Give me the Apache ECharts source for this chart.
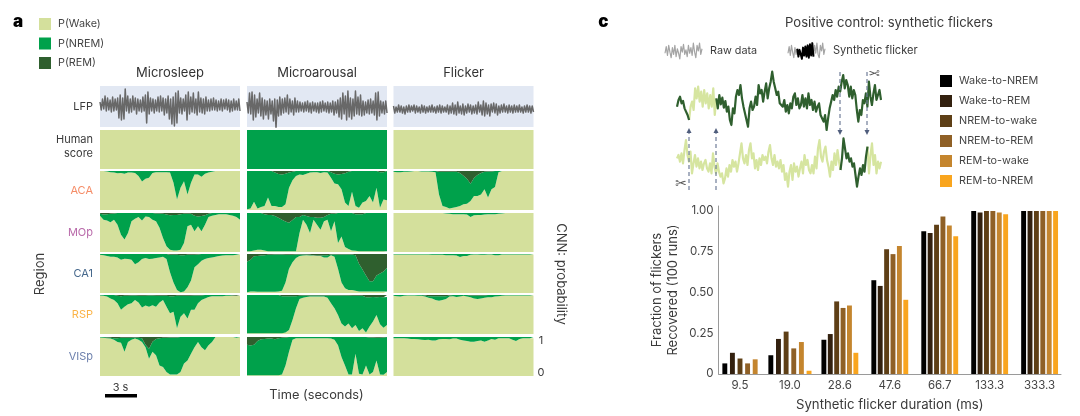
<!DOCTYPE html>
<html><head><meta charset="utf-8">
<style>html,body{margin:0;padding:0;background:#fff}#c{width:1080px;height:416px}</style>
<script src="https://cdn.jsdelivr.net/npm/echarts@6/dist/echarts.min.js"></script>
</head><body><div id="c"></div>
<script>
const stateNames = ['P(Wake)','P(NREM)','P(REM)'];
const regions = ['ACA','MOp','CA1','RSP','VISp'];
const conditions = ['Microsleep','Microarousal','Flicker'];

const lfpMicrosleep = [3,-5,6,-4,9,-6,7,-5,5,-7,8,-6,6,-5,7,-13,10,-15,7,-14,16,-6,9,-8,6,-7,9,-5,7,-9,6,-6,5,-7,8,-6,10,-18,13,-9,7,-6,6,-8,5,-6,8,-7,9,-6,7,-10,6,-8,9,-14,6,-19,8,-21,12,-18,14,-8,7,-9,6,-6,10,-15,13,-9,8,-7,12,-8,6,-10,13,-7,7,-8,6,-9,8,-6,5,-6,6,-5,7,-5,5,-6,4,-5,6,-6,5,-4,6,-5,5,-7,4,-6,6,-5,4,-5,6,-6];
const lfpMicroarousal = [5,-6,14,-7,15,-13,12,-10,8,-6,14,-9,9,-12,7,-8,6,-12,8,-7,6,-14,8,-22,7,-9,10,-8,8,-6,9,-5,12,-7,8,-5,6,-8,9,-5,6,-5,5,-4,4,-5,5,-4,6,-5,4,-6,5,-4,4,-5,4,-6,5,-5,6,-4,4,-5,5,-6,4,-5,6,-8,5,-6,7,-10,9,-12,14,-7,11,-13,16,-10,9,-12,8,-9,16,-7,10,-8,12,-9,6,-8,5,-6,7,-7,8,-6,6,-8,14,-13,15,-9,6,-6,5,-7,6,-6];
const lfpFlicker = [3,-4,2,-3,4,-3,3,-4,2,-5,3,-3,4,-3,3,-2,4,-4,3,-3,2,-4,4,-3,3,-4,2,-3,3,-3,4,-3,2,-4,3,-3,4,-4,3,-3,2,-3,4,-5,3,-4,6,-5,4,-6,7,-4,3,-5,5,-6,3,-4,5,-3,4,-5,3,-4,4,-5,7,-3,4,-6,8,-7,6,-5,4,-7,5,-3,6,-4,5,-6,3,-4,4,-3,5,-3,3,-4,4,-3,3,-4,4,-3,3,-3,4,-3,2,-4,3,-3,4,-3,3,-4,3,-3];

const wakeMicrosleepACA = [1,1,.99,.97,.96,.94,.95,.93,.96,.96,.95,.87,.73,.8,.83,.95,.97,.97,.97,.97,.96,.7,.27,.57,.74,.4,.7,.91,.91,.85,.93,.96,.98,1,1,1,1,1,1,1,1];
const remMicrosleepACA = [0,0,0,0,0,0,0,0,0,0,0,0,0,0,0,0,0,0,0,0,0,0,0,0,0,0,0,0,0,0,0,0,0,0,0,0,0,0,0,0,0];
const wakeMicrosleepMOp = [.93,.83,.81,.76,.83,.7,.44,.32,.49,.79,.85,.9,.81,.91,.9,.83,.79,.62,.36,.15,.06,.04,.04,.06,.23,.66,.7,.53,.66,.53,.7,.9,.93,.95,.97,.97,.97,.95,.93,.9,.83];
const remMicrosleepMOp = [.02,.04,.03,.02,.01,0,0,0,0,0,0,0,0,0,0,0,.01,.01,.02,.04,.06,.05,.05,.03,.02,.02,.02,.07,.09,.08,.06,.02,0,0,0,0,0,0,0,0,0];
const wakeMicrosleepCA1 = [.98,.97,.95,.93,.93,.91,.85,.88,.87,.85,.74,.79,.87,.9,.87,.88,.9,.91,.93,.87,.53,.27,.08,.02,.04,.15,.32,.66,.74,.83,.87,.9,.91,.93,.95,.96,.97,.97,.97,.98,.99];
const remMicrosleepCA1 = [0,0,0,0,0,0,0,0,0,0,0,0,0,0,0,0,0,0,0,0,.02,.02,.02,.03,.03,.02,.02,.02,.01,0,0,0,0,0,0,0,0,0,0,0,0];
const wakeMicrosleepRSP = [.99,.98,.96,.91,.87,.79,.62,.7,.76,.79,.87,.81,.68,.73,.7,.74,.7,.81,.87,.7,.53,.57,.15,.44,.53,.4,.62,.62,.79,.87,.91,.95,.97,.97,.97,.97,.98,.98,.98,.98,.98];
const remMicrosleepRSP = [0,0,0,0,0,.02,.03,.02,.02,.01,.01,.02,.02,.02,.01,.01,.02,.02,.02,.02,.03,.03,.02,.02,.02,.02,.02,.01,.01,.01,0,0,0,0,0,0,0,0,.01,.02,.01];
const wakeMicrosleepVISp = [.99,.98,.97,.96,.93,.87,.85,.62,.87,.93,.96,.93,.87,.74,.44,.62,.53,.27,.23,.1,.04,.04,.04,.1,.32,.4,.57,.74,.87,.74,.66,.79,.87,1,1,1,1,1,1,.98,1];
const remMicrosleepVISp = [0,0,.01,.02,.03,.03,.02,.02,.02,.02,.01,.02,.03,.2,.3,.12,.05,.03,.02,.02,.01,.01,.01,0,0,0,0,0,0,0,0,0,0,0,0,0,0,0,0,0,0];

const wakeMicroarousalACA = [.02,.04,.21,.04,.08,.1,.32,.1,.1,.08,.08,.15,.57,.76,.87,.91,.9,.93,.96,.97,.97,.95,.97,.96,.83,.68,.66,.53,.19,.1,.47,.1,.06,.19,.23,.36,.19,.57,.06,.27,.25];
const remMicroarousalACA = [0,0,0,0,0,0,0,0,.04,.08,.09,.07,.04,.02,0,0,0,0,0,0,0,0,0,0,.03,.07,.09,.08,.06,.02,0,0,0,0,0,0,0,0,.03,.03,0];
const wakeMicroarousalMOp = [.02,.02,.04,.06,.06,.04,.02,.02,.02,.02,.02,.02,.02,.02,.02,.49,.83,.7,.49,.83,.7,.57,.79,.83,.53,.79,.23,.4,.13,.08,.04,.03,.02,.02,.02,.02,.02,.02,.02,.02,.02];
const remMicroarousalMOp = [0,0,0,0,0,.03,.05,.05,.08,.12,.17,.22,.25,.18,.1,.1,.05,.08,.1,.1,.12,.12,.1,.05,.02,.02,0,0,0,0,0,.03,.03,.03,0,0,0,0,0,0,0];
const wakeMicroarousalCA1 = [.02,.04,.04,.03,.03,.03,.03,.03,.03,.04,.06,.27,.62,.79,.9,.95,.96,.97,.96,.96,.95,.95,.91,.91,.97,.93,.62,.27,.12,.08,.08,.06,.04,.04,.04,.04,.04,.04,.04,.04,.04];
const remMicroarousalCA1 = [.2,.15,.06,.05,.04,.03,.02,.02,.01,.01,.01,.02,.02,.02,.01,.01,.01,.01,.02,.03,.04,.04,.03,.03,.01,.01,.01,.01,.01,.01,.01,.03,.25,.4,.55,.7,.7,.55,.5,.45,.35];
const wakeMicroarousalRSP = [.02,.02,.02,.02,.02,.02,.02,.02,.02,.02,.02,.04,.1,.36,.66,.9,.93,.95,.96,.96,.96,.96,.96,.93,.79,.66,.49,.27,.19,.27,.15,.23,.08,.15,.04,.19,.32,.49,.25,.16,.23];
const remMicroarousalRSP = [0,0,0,0,0,0,0,0,0,0,.03,.03,.03,.03,.03,.02,.01,.01,.01,.01,.01,.01,.01,.01,.01,.01,.01,.01,.01,.01,.02,.02,.02,.02,.06,.06,.05,.06,.05,.06,.05];
const wakeMicroarousalVISp = [.02,.02,.02,.02,.02,.02,.02,.02,.02,.02,.04,.27,.62,.93,.97,.97,.97,.97,.97,.97,.97,.97,.97,.97,.96,.93,.79,.49,.27,.04,.04,.57,.06,.04,.27,.04,.1,.4,.04,.03,.1];
const remMicroarousalVISp = [.2,.22,.2,.1,.06,.05,.04,.04,.06,.03,.02,.01,0,0,0,0,0,0,0,0,0,0,0,0,0,0,0,0,0,0,0,0,0,0,0,.01,.01,.02,.02,.01,0];

const wakeFlickerACA = [.98,.97,.97,.98,.98,.99,1,1,.99,.99,.99,.98,.97,.4,.1,.08,.04,.06,.08,.1,.15,.16,.23,.36,.36,.4,.53,.32,.53,.59,.97,1,1,1,1,1,1,1,1,1,1];
const remFlickerACA = [0,0,0,0,0,0,0,0,0,0,0,0,0,.02,.02,.02,.02,.02,.02,.05,.12,.2,.33,.18,.1,.05,.02,.01,.01,0,0,0,0,0,0,0,0,0,0,0,0];
const wakeFlickerMOp = [1,1,1,1,1,1,1,1,1,1,1,1,1,1,1,.99,.98,.97,.97,.97,.97,.96,.9,.94,.95,.95,.96,.97,.97,.97,.98,.99,1,1,1,1,1,1,1,1,1];
const remFlickerMOp = [0,0,0,0,0,0,0,0,0,0,0,0,0,0,0,0,0,0,0,0,0,0,0,0,0,0,0,0,0,0,0,0,0,0,0,0,0,0,0,0,0];
const wakeFlickerCA1 = [.99,.99,.99,.99,.99,.99,.99,.99,.99,.99,.99,.98,.98,.98,.98,.97,.97,.97,.96,.92,.95,.95,.98,.99,.99,.98,.98,.99,.99,.97,.97,.99,.99,.99,.99,.99,.99,.99,.99,.99,.99];
const remFlickerCA1 = [0,0,0,0,0,0,0,0,0,0,0,0,0,0,0,0,0,0,0,0,0,0,0,0,0,0,0,0,0,0,0,0,0,0,0,0,0,0,0,0,0];
const wakeFlickerRSP = [.98,.97,.96,.98,.99,.99,.99,.98,.98,.96,.93,.91,.87,.85,.87,.9,.96,.97,.95,.96,.98,.96,.94,.91,.9,.91,.93,.94,.94,.96,.97,.98,.99,.99,.99,.99,.99,.99,.99,.99,.99];
const remFlickerRSP = [0,0,0,0,0,0,0,0,0,.01,.03,.03,.03,.03,.03,.03,.01,0,0,0,0,0,.01,.01,.01,.01,.01,0,0,0,0,0,0,0,0,0,0,0,0,0,0];
const wakeFlickerVISp = [.97,.97,.97,.97,.96,.95,.95,.94,.93,.92,.93,.91,.91,.94,.95,.95,.94,.96,.96,.93,.91,.9,.88,.88,.9,.91,.88,.91,.95,.93,.97,.97,.97,.97,.93,.9,.95,.97,.97,.97,.97];
const remFlickerVISp = [0,0,0,0,0,0,0,0,0,0,0,0,0,0,0,0,0,0,0,0,0,0,0,0,0,0,0,0,0,0,0,0,0,0,0,0,0,0,0,0,0];

const humanWakeMicrosleep = [1,1];
const humanWakeMicroarousal = [0,0];
const humanWakeFlicker = [1,1];
const humanRem = [0,0];

const traceRawFlicker = [125,105,95,115,108,130,125,150,165,125,110,135,70,100,65,110,80,125,75,115,85,130,90,125,70,150,100,130,90,118,98,128,108,140,125,165,180,130,145,95,75,90,60,100,125,120,165,185,130,110,135,125,95,120,60,85,75,110,80,55,100,70,50,20,50,70,90,80,115,110,125,105,140,120,145,115,130,95,85,120,100,130,120,90,125,100,130,85,120,105,135,110,140,125,115,150,150,170,150,195,160,130,110,90,105,75,95,65,80,50,30,70,45,60,95,65,100,75,90,135,170,135,150,105,115,85,125,50,95,120,85,60,105,100,75,105];
const traceSyntheticFlicker = [85,75,95,70,100,60,30,75,95,65,130,100,75,110,85,115,95,120,100,90,115,125,100,130,70,110,130,100,125,140,130,160,145,115,140,105,125,90,110,95,125,100,70,40,85,100,75,105,60,40,85,70,115,90,120,85,105,75,90,80,100,65,45,85,105,75,110,95,115,90,125,105,150,130,170,125,105,150,100,125,110,140,115,95,130,75,105,90,120,130,105,130,80,115,55,30,80,95,65,50,90,110,140,95,120,70,105,60,95,120,85,25,55,85,70,95,85,110,100,135,170,140,115,135,105,125,80,50,130,75,40,105,75,130,95,115,95];
const glyphRaw = [10,4,12,3,9,14,5,11,3,13,6,10,15,4,9,2,11,7,13,3,10,5,12,1,9,14,3,8,1,11,6];
const glyphSynthetic = [10,4,12,3,9,14,5,11,6,13,7,11,15,5,12,4,13,3,14,2,12,1,13,3,10,1,11,14,3,8,1,11,6];

const transitionNames = ['Wake-to-NREM','Wake-to-REM','NREM-to-wake','NREM-to-REM','REM-to-wake','REM-to-NREM'];
const durationLabels = ['9.5','19.0','28.6','47.6','66.7','133.3','333.3'];
const wakeToNREM = [.065,.115,.21,.575,.875,1,1];
const wakeToREM = [.13,.215,.245,.54,.865,.99,1];
const nremToWake = [.095,.26,.445,.765,.915,1,1];
const nremToREM = [.065,.157,.405,.735,.965,1,1];
const remToWake = [.09,.196,.42,.785,.91,.99,1];
const remToNREM = [null,.02,.13,.455,.845,.98,1];
const tickLabelsY = {0:'0',0.25:'0.25',0.5:'0.50',0.75:'0.75',1:'1.00'};

const FONT = 'Inter, "Noto Sans", sans-serif';
const colWake='#d4e09c', colNrem='#00a14b', colRem='#2f5f2e';
const transitionColors=['#000000','#33210f','#5e3f16','#8f6026','#c4852e','#f9a51e'];
const regionColors=['#f58d68','#b96aaa','#46688c','#fbb448','#6d80ad'];

const grid=[],xAxis=[],yAxis=[],series=[],graphic=[];
function addGrid(left,top,width,height,yMin,yMax,n,extra){
  const i=grid.length;
  grid.push(Object.assign({left,top,width,height,show:false,containLabel:false},extra||{}));
  xAxis.push({type:'category',gridIndex:i,show:false,boundaryGap:false,data:Array.from({length:n},(_,k)=>k)});
  yAxis.push({type:'value',gridIndex:i,show:false,min:yMin,max:yMax,inverse:false});
  return i;
}
function addStates(left,top,w,h,wake,rem){
  const i=addGrid(left,top,w,h,0,1,wake.length);
  const nrem=wake.map((v,k)=>Math.max(0,1-v-rem[k]));
  [[stateNames[0],wake,colWake],[stateNames[1],nrem,colNrem],[stateNames[2],rem,colRem]].forEach(([name,data,color])=>{
    series.push({type:'line',name,data,xAxisIndex:i,yAxisIndex:i,stack:'s'+i,symbol:'none',showSymbol:false,
      lineStyle:{width:0},areaStyle:{color,opacity:1},itemStyle:{color},silent:true});
  });
}
function addTrace(i,data,from,to,color,width){
  series.push({type:'line',data:data.map((v,k)=>k>=from&&k<=to?v:null),xAxisIndex:i,yAxisIndex:i,symbol:'none',showSymbol:false,
    connectNulls:false,lineStyle:{width,color,join:'round'},silent:true});
}
function text(x,y,t,o){graphic.push({type:'text',x,y,rotation:o&&o.rot||0,z:10,silent:true,style:Object.assign({text:t,x:0,y:0,fill:'#3a3a3a',font:'12px '+FONT,textAlign:'center',textVerticalAlign:'middle'},o&&o.s||{})});}

const colLeft=[100,247,393.5], W=140;
const lfps=[lfpMicrosleep,lfpMicroarousal,lfpFlicker];
const lfpRange=[[-22,19],[-20,21],[-18,23]];
const humans=[humanWakeMicrosleep,humanWakeMicroarousal,humanWakeFlicker];
const tops=[171,213,254,295,337];
const panels=[
 [[wakeMicrosleepACA,remMicrosleepACA],[wakeMicrosleepMOp,remMicrosleepMOp],[wakeMicrosleepCA1,remMicrosleepCA1],[wakeMicrosleepRSP,remMicrosleepRSP],[wakeMicrosleepVISp,remMicrosleepVISp]],
 [[wakeMicroarousalACA,remMicroarousalACA],[wakeMicroarousalMOp,remMicroarousalMOp],[wakeMicroarousalCA1,remMicroarousalCA1],[wakeMicroarousalRSP,remMicroarousalRSP],[wakeMicroarousalVISp,remMicroarousalVISp]],
 [[wakeFlickerACA,remFlickerACA],[wakeFlickerMOp,remFlickerMOp],[wakeFlickerCA1,remFlickerCA1],[wakeFlickerRSP,remFlickerRSP],[wakeFlickerVISp,remFlickerVISp]]
];
colLeft.forEach((L,c)=>{
  const i=addGrid(L,86,W,41,lfpRange[c][0],lfpRange[c][1],lfps[c].length,{show:true,backgroundColor:'#e2e8f3',borderWidth:0});
  addTrace(i,lfps[c],0,1e9,'#686868',1.5);
  addStates(L,130,W,39,humans[c],humanRem);
  tops.forEach((T,r)=>addStates(L,T,W,39,panels[c][r][0],panels[c][r][1]));
  text(L+W/2,73,conditions[c],{s:{font:'13px '+FONT,fill:'#333'}});
});

// panel c traces
let g=addGrid(677,65,204,70,0,210,traceRawFlicker.length); yAxis[g].inverse=true;
addTrace(g,traceRawFlicker,8,26,'#d6e5a0',2.2);
addTrace(g,traceRawFlicker,0,8,'#2f5f2e',2.2);
addTrace(g,traceRawFlicker,26,135,'#2f5f2e',2.2);
g=addGrid(677,130,204,65,0,195,traceSyntheticFlicker.length); yAxis[g].inverse=true;
addTrace(g,traceSyntheticFlicker,0,109,'#d6e5a0',2.2);
addTrace(g,traceSyntheticFlicker,127,136,'#d6e5a0',2.2);
addTrace(g,traceSyntheticFlicker,109,127,'#2f5f2e',2.2);
g=addGrid(665,42,37,18,0,16,glyphRaw.length); yAxis[g].inverse=true;
addTrace(g,glyphRaw,0,99,'#a5a5a5',1.2);
g=addGrid(788,42,37,18,0,16,glyphSynthetic.length); yAxis[g].inverse=true;
addTrace(g,glyphSynthetic,0,8,'#a5a5a5',1.2);
addTrace(g,glyphSynthetic,22,33,'#a5a5a5',1.2);
addTrace(g,glyphSynthetic,8,22,'#000',2);

// bar chart: the x axis counts sevenths of a duration group, so min is a multiple of the interval
const b=grid.length, unit=7;
grid.push({left:718.6,top:206,width:342.4,height:168});
xAxis.push({type:'value',gridIndex:b,min:-3,max:45,interval:1,splitLine:{show:false},axisTick:{show:false},
  axisLine:{show:true,onZero:false,lineStyle:{color:'#9a9a9a'}},
  axisLabel:{color:'#444',fontFamily:FONT,fontSize:11.5,margin:6,formatter:v=>v%unit===0&&v>=0?durationLabels[v/unit]:''},
  name:'Synthetic flicker duration (ms)',nameLocation:'middle',nameGap:25,nameTextStyle:{color:'#3a3a3a',fontFamily:FONT,fontSize:13.2}});
yAxis.push({type:'value',gridIndex:b,min:0,max:1.03,interval:.25,splitLine:{show:false},axisTick:{show:false},
  axisLine:{show:true,onZero:false,lineStyle:{color:'#9a9a9a'}},
  axisLabel:{color:'#444',fontFamily:FONT,fontSize:11.5,margin:5,showMaxLabel:false,formatter:v=>tickLabelsY[v]||''},
  name:'Fraction of flickers\nRecovered (100 runs)',nameLocation:'middle',nameGap:38,nameRotate:90,
  nameTextStyle:{color:'#3a3a3a',fontFamily:FONT,fontSize:13,lineHeight:16}});
const groupPitch=[.152,.153,.128,.128,.128,.128,.128];
[wakeToNREM,wakeToREM,nremToWake,nremToREM,remToWake,remToNREM].forEach((vals,s)=>{
  series.push({type:'bar',name:transitionNames[s],xAxisIndex:b,yAxisIndex:b,barWidth:4.9,barGap:'-100%',
    itemStyle:{color:transitionColors[s]},silent:true,
    data:vals.map((v,k)=>{const n=k===0?5:6;return [(k+(s-(n-1)/2)*groupPitch[k])*unit,v];})});
});

// left-hand row labels
text(93,107,'LFP',{s:{textAlign:'right',font:'11px '+FONT}});
text(93,140,'Human',{s:{textAlign:'right',font:'11px '+FONT}});
text(93,153.5,'score',{s:{textAlign:'right',font:'11px '+FONT}});
regions.forEach((r,i)=>text(93,[191,233,274,315,357][i],r,{s:{textAlign:'right',font:'11px '+FONT,fill:regionColors[i]}}));
text(40,274,'Region',{rot:Math.PI/2,s:{font:'13px '+FONT}});
text(561,274,'CNN: probability',{rot:-Math.PI/2,s:{font:'13px '+FONT}});
text(541,340.5,'1',{s:{font:'11px '+FONT}});
text(541,373,'0',{s:{font:'11px '+FONT}});
text(120.5,387.5,'3 s',{s:{font:'11px '+FONT}});
graphic.push({type:'rect',shape:{x:105,y:394,width:32,height:3.5},style:{fill:'#000'},silent:true});
text(316.5,395,'Time (seconds)',{s:{font:'12.8px '+FONT}});
text(18,22,'a',{s:{font:'900 17px '+FONT,fill:'#000'}});
text(603.5,22,'c',{s:{font:'900 17px '+FONT,fill:'#000'}});
text(889,23,'Positive control: synthetic flickers',{s:{font:'13.1px '+FONT}});
text(710,51,'Raw data',{s:{font:'10.8px '+FONT,textAlign:'left'}});
text(833,51,'Synthetic flicker',{s:{font:'11.1px '+FONT,textAlign:'left'}});
text(874,72,'\u2702',{rot:Math.PI,s:{font:'14px "DejaVu Sans"',fill:'#555'}});
text(681,184,'\u2702',{s:{font:'14px "DejaVu Sans"',fill:'#555'}});

// flicker-splice arrows
const arrow='#6f7c98';
function dashed(x,y1,y2,tipY,dir){
  graphic.push({type:'line',z:9,shape:{x1:x,y1,x2:x,y2},style:{stroke:arrow,lineWidth:1.2,lineDash:[4,3]},silent:true});
  graphic.push({type:'polygon',z:9,shape:{points:[[x,tipY],[x-2.5,tipY-dir*5],[x+2.5,tipY-dir*5]]},style:{fill:'#4f5d7c'},silent:true});
}
dashed(689,190,132,128,-1);
dashed(716,190,132,128,-1);
dashed(840,72,131,135,1);
dashed(867,72,131,135,1);

const option={
  animation:false,backgroundColor:'#fff',textStyle:{fontFamily:FONT},
  grid,xAxis,yAxis,series,graphic,
  legend:[
    {left:39,top:18,padding:0,orient:'vertical',itemWidth:12,itemHeight:12,itemGap:7.5,icon:'rect',selectedMode:false,data:stateNames,
     textStyle:{color:'#444',fontFamily:FONT,fontSize:10.8,padding:[0,0,0,2]}},
    {left:940,top:75,padding:0,orient:'vertical',itemWidth:12,itemHeight:12,itemGap:8,icon:'rect',selectedMode:false,data:transitionNames,
     textStyle:{color:'#444',fontFamily:FONT,fontSize:10.8,padding:[0,0,0,2]}}
  ]
};
echarts.init(document.getElementById('c'),null,{renderer:'canvas'}).setOption(option);
</script></body></html>
